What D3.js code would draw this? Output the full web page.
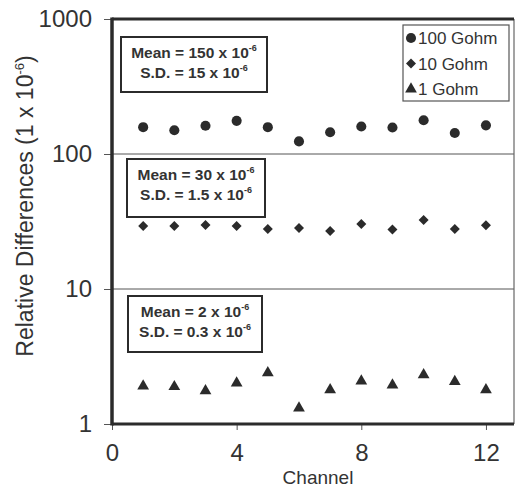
<!DOCTYPE html>
<html>
<head>
<meta charset="utf-8">
<script src="https://d3js.org/d3.v7.min.js"></script>
<style>
  html, body { margin: 0; padding: 0; background: #fff; }
  svg { display: block; font-family: "Liberation Sans", Arial, Helvetica, sans-serif; }
</style>
</head>
<body>
<div id="chart"></div>
<script>
// channel numbers
var channels = [1, 2, 3, 4, 5, 6, 7, 8, 9, 10, 11, 12];

// relative differences (x 1e-6)
var gohm100 = [158, 150, 162, 176, 158, 124, 145, 160, 157, 178, 143, 163];
var gohm10 = [29.3, 29.3, 29.8, 29.3, 27.8, 28.3, 26.9, 30.3, 27.6, 32.5, 27.8, 29.6];
var gohm1 = [1.91, 1.89, 1.76, 2.01, 2.39, 1.31, 1.79, 2.08, 1.94, 2.31, 2.06, 1.79];

var seriesNames = ["100 Gohm", "10 Gohm", "1 Gohm"];
var yTicks = [1, 10, 100, 1000];
var xTicks = [0, 4, 8, 12];

// summary boxes text
var meanText = ["150", "30", "2"];
var sdText = ["15", "1.5", "0.3"];

var W = 515, H = 489;
var plotL = 112, plotT = 19, plotR = 514, plotB = 424;
var ink = "#2b2b2b";

var svg = d3.select("#chart").append("svg")
    .attr("width", W)
    .attr("height", H);

var x = d3.scaleLinear().domain([0, 12.9]).range([plotL, plotR]);
var y = d3.scaleLog().domain([1, 1000]).range([plotB, plotT]);

// grid lines at 10 and 100
svg.append("g").selectAll("line")
  .data([10, 100])
  .join("line")
    .attr("x1", plotL).attr("x2", plotR)
    .attr("y1", function(d) { return y(d); })
    .attr("y2", function(d) { return y(d); })
    .attr("stroke", "#555")
    .attr("stroke-width", 1);

// y axis
var yAxis = svg.append("g")
    .attr("transform", "translate(" + plotL + ",0)")
    .call(d3.axisLeft(y).tickValues(yTicks).tickFormat(d3.format("d")).tickSize(8).tickPadding(12));
yAxis.select(".domain").remove();
yAxis.selectAll(".tick line").attr("stroke", "#555");
yAxis.selectAll("text")
    .attr("font-size", 24)
    .attr("fill", "#333")
    .style("font-family", "Liberation Sans, Arial, sans-serif");

// x axis
var xAxis = svg.append("g")
    .attr("transform", "translate(0," + plotB + ")")
    .call(d3.axisBottom(x).tickValues(xTicks).tickSize(6).tickPadding(14));
xAxis.select(".domain").remove();
xAxis.selectAll(".tick line").attr("stroke", "#555");
xAxis.selectAll("text")
    .attr("font-size", 24)
    .attr("fill", "#333")
    .style("font-family", "Liberation Sans, Arial, sans-serif");

// frame
svg.append("line").attr("x1", plotR).attr("x2", plotR).attr("y1", plotT).attr("y2", plotB)
    .attr("stroke", "#666").attr("stroke-width", 1.2);
svg.append("line").attr("x1", plotL).attr("x2", plotR).attr("y1", plotT).attr("y2", plotT)
    .attr("stroke", ink).attr("stroke-width", 3);
svg.append("line").attr("x1", plotL).attr("x2", plotR).attr("y1", plotB).attr("y2", plotB)
    .attr("stroke", ink).attr("stroke-width", 3);
svg.append("line").attr("x1", plotL).attr("x2", plotL).attr("y1", plotT - 1.5).attr("y2", plotB + 1.5)
    .attr("stroke", ink).attr("stroke-width", 3.5);

// axis titles
svg.append("text")
    .attr("x", 318).attr("y", 484)
    .attr("text-anchor", "middle")
    .attr("font-size", 19)
    .attr("fill", "#333")
    .text("Channel");

var ylab = svg.append("text")
    .attr("transform", "translate(33,206) rotate(-90)")
    .attr("text-anchor", "middle")
    .attr("font-size", 23)
    .attr("fill", "#333");
ylab.append("tspan").text("Relative Differences (1 x 10");
ylab.append("tspan").attr("font-size", 13).attr("dy", -9).text("-6");
ylab.append("tspan").attr("dy", 9).text(")");

// markers
var symbols = [
  d3.symbol().type(d3.symbolCircle).size(80),
  d3.symbol().type(d3.symbolSquare).size(50),
  d3.symbol().type(d3.symbolTriangle).size(60)
];
var rotations = [0, 45, 0];
var allSeries = [gohm100, gohm10, gohm1];

allSeries.forEach(function(vals, si) {
  svg.append("g").selectAll("path")
    .data(vals)
    .join("path")
      .attr("d", symbols[si])
      .attr("transform", function(d, i) {
        return "translate(" + x(channels[i]) + "," + y(d) + ") rotate(" + rotations[si] + ")";
      })
      .attr("fill", ink);
});

// summary boxes
var boxes = [
  {x0: 121, y0: 37, w: 146, h: 55},
  {x0: 127, y0: 159, w: 138, h: 58},
  {x0: 128, y0: 296, w: 134, h: 56}
];
boxes.forEach(function(b, i) {
  var g = svg.append("g");
  g.append("rect")
      .attr("x", b.x0).attr("y", b.y0).attr("width", b.w).attr("height", b.h)
      .attr("fill", "#fff").attr("stroke", ink).attr("stroke-width", 2);
  var cx = b.x0 + b.w / 2;
  var t1 = g.append("text").attr("x", cx).attr("y", b.y0 + 21)
      .attr("text-anchor", "middle").attr("font-size", 15.5).attr("font-weight", "bold").attr("fill", "#333");
  t1.append("tspan").text("Mean = " + meanText[i] + " x 10");
  t1.append("tspan").attr("font-size", 9).attr("dy", -7).text("-6");
  var t2 = g.append("text").attr("x", cx).attr("y", b.y0 + 41)
      .attr("text-anchor", "middle").attr("font-size", 15.5).attr("font-weight", "bold").attr("fill", "#333");
  t2.append("tspan").text("S.D. = " + sdText[i] + " x 10");
  t2.append("tspan").attr("font-size", 9).attr("dy", -7).text("-6");
});

// legend
var legend = svg.append("g");
legend.append("rect")
    .attr("x", 403).attr("y", 25).attr("width", 106).attr("height", 76)
    .attr("fill", "#fff").attr("stroke", "#555").attr("stroke-width", 1.2);
seriesNames.forEach(function(name, i) {
  var ly = 38 + i * 25.5;
  legend.append("path")
      .attr("d", symbols[i])
      .attr("transform", "translate(411," + ly + ") rotate(" + rotations[i] + ")")
      .attr("fill", ink);
  legend.append("text")
      .attr("x", 418).attr("y", ly + 6)
      .attr("font-size", 17)
      .attr("fill", "#333")
      .text(name);
});
</script>
</body>
</html>
